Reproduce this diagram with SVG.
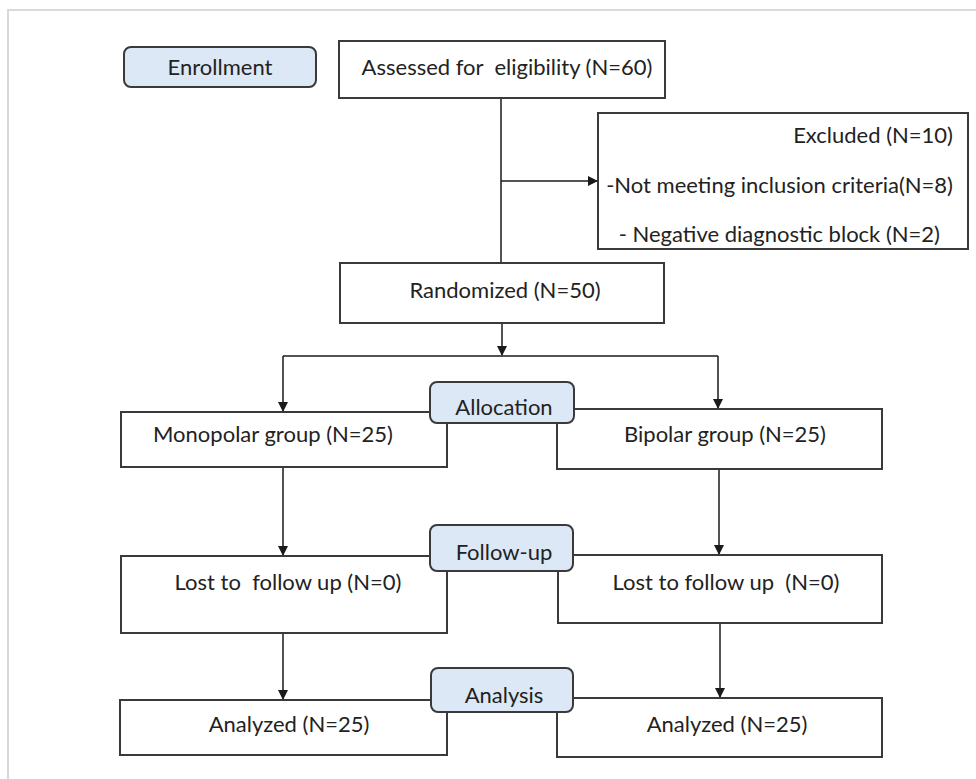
<svg xmlns="http://www.w3.org/2000/svg" width="976" height="779" viewBox="0 0 976 779">
<defs>
<marker id="ah" markerWidth="10" markerHeight="10" refX="9" refY="5" orient="auto" markerUnits="userSpaceOnUse">
<path d="M0,0 L10,5 L0,10 Z" fill="#1a1a1a"/>
</marker>
<style>
.box{fill:#ffffff;stroke:#3a3a3a;stroke-width:2}
.stage{fill:#dce8f6;stroke:#3a3a3a;stroke-width:2}
.t{font-family:Lato,"Liberation Sans",sans-serif;font-size:22px;fill:#222222;text-anchor:middle;white-space:pre}
.tr{font-family:Lato,"Liberation Sans",sans-serif;font-size:22px;fill:#222222;text-anchor:end;white-space:pre}
.c{fill:none;stroke:#1a1a1a;stroke-width:1.5}
</style>
</defs>
<rect x="0" y="0" width="976" height="779" fill="#ffffff"/>
<path d="M8,779 L8,10 L976,10" fill="none" stroke="#d9d9d9" stroke-width="2"/>

<g id="connectors">
<path class="c" d="M501,98 L501,263"/>
<path class="c" d="M501,181 L597,181" marker-end="url(#ah)"/>
<path class="c" d="M502,323 L502,355" marker-end="url(#ah)"/>
<path class="c" d="M283,356 L718,356"/>
<path class="c" d="M283,356 L283,411" marker-end="url(#ah)"/>
<path class="c" d="M718,356 L718,408" marker-end="url(#ah)"/>
<path class="c" d="M283,467 L283,555" marker-end="url(#ah)"/>
<path class="c" d="M719,469 L719,554" marker-end="url(#ah)"/>
<path class="c" d="M283,633 L283,699" marker-end="url(#ah)"/>
<path class="c" d="M720,623 L720,697" marker-end="url(#ah)"/>
</g>

<g id="assessed">
<rect class="box" x="339" y="41" width="326" height="57"/>
<text class="t" x="507" y="75" xml:space="preserve">Assessed for  eligibility (N=60)</text>
</g>
<g id="excluded">
<rect class="box" x="598" y="113" width="370" height="136"/>
<text class="tr" x="953" y="143">Excluded (N=10)</text>
<text class="tr" x="953" y="193">-Not meeting inclusion criteria(N=8)</text>
<text class="tr" x="940" y="242">- Negative diagnostic block (N=2)</text>
</g>
<g id="randomized">
<rect class="box" x="340" y="263" width="324" height="60"/>
<text class="t" x="505" y="298">Randomized (N=50)</text>
</g>
<g id="monopolar">
<rect class="box" x="121" y="412" width="326" height="55"/>
<text class="t" x="273" y="442">Monopolar group (N=25)</text>
</g>
<g id="bipolar">
<rect class="box" x="557" y="409" width="325" height="60"/>
<text class="t" x="725" y="442">Bipolar group (N=25)</text>
</g>
<g id="lost-left">
<rect class="box" x="121" y="556" width="326" height="77"/>
<text class="t" x="288" y="590" xml:space="preserve">Lost to  follow up (N=0)</text>
</g>
<g id="lost-right">
<rect class="box" x="558" y="555" width="324" height="68"/>
<text class="t" x="726" y="590" xml:space="preserve">Lost to follow up  (N=0)</text>
</g>
<g id="analyzed-left">
<rect class="box" x="120" y="700" width="327" height="55"/>
<text class="t" x="289" y="732">Analyzed (N=25)</text>
</g>
<g id="analyzed-right">
<rect class="box" x="557" y="698" width="325" height="59"/>
<text class="t" x="727" y="732">Analyzed (N=25)</text>
</g>

<g id="enrollment">
<rect class="stage" x="124" y="47" width="192" height="40" rx="7"/>
<text class="t" x="220" y="75">Enrollment</text>
</g>
<g id="allocation">
<rect class="stage" x="430" y="382" width="144" height="41" rx="7"/>
<text class="t" x="504" y="415">Allocation</text>
</g>
<g id="follow-up">
<rect class="stage" x="430" y="525" width="143" height="46" rx="7"/>
<text class="t" x="504" y="560">Follow-up</text>
</g>
<g id="analysis">
<rect class="stage" x="431" y="668" width="142" height="44" rx="7"/>
<text class="t" x="504" y="703">Analysis</text>
</g>
</svg>
